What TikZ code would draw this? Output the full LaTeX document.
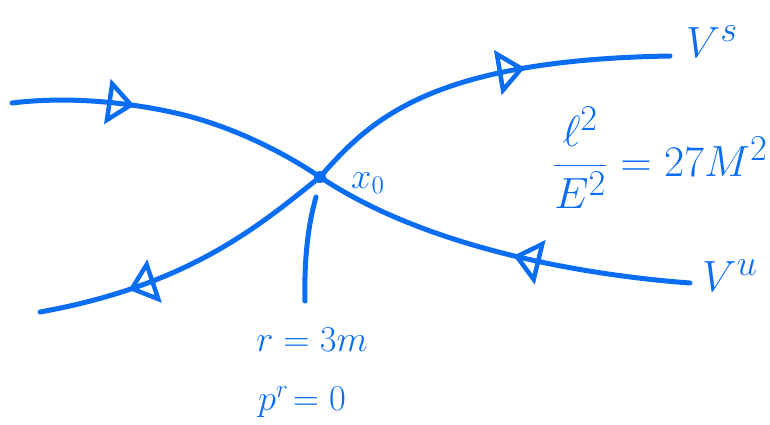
\documentclass[tikz,border=0pt]{standalone}
\usepackage{amsmath, amssymb}
\usepackage{xcolor}
\usepackage{tikz}
\usetikzlibrary{arrows.meta, decorations.markings}

\definecolor{inkblue}{RGB}{10,110,245}

\begin{document}
\begin{tikzpicture}[
    x=0.02cm, y=-0.02cm,
    ink/.style={draw, color=inkblue, line width=0.1cm, line cap=round, line join=round},
    flow/.style={postaction={decorate, decoration={markings,
        mark=at position #1 with {\arrow[line width=0.09cm]{Triangle[open, length=0.55cm, width=0.9cm]}}}}},
    lbl/.style={text=inkblue, inner sep=0pt, font=\fontsize{20}{22}\selectfont},
    biglbl/.style={text=inkblue, inner sep=0pt, font=\fontsize{30}{32}\selectfont}
]
\useasboundingbox (0,0) rectangle (770,424);
% saddle point and branch ends
\coordinate (x0) at (320,177);
\coordinate (inl) at (12,103);
\coordinate (mid) at (180,114);
\coordinate (inr) at (690,283);
\coordinate (outl) at (40,312);
\coordinate (outr) at (670,56);
\coordinate (vtop) at (316,197);
\coordinate (vbot) at (305,301);
% branches
\draw[ink, flow=0.38] (inl) .. controls (60,97) and (120,100) .. (mid)
    .. controls (230,126) and (280,150) .. (x0);
\draw[ink, flow=0.46] (inr) .. controls (570,274) and (420,244) .. (x0);
\draw[ink, flow=0.71] (x0) .. controls (260,225) and (190,285) .. (outl);
\draw[ink, flow=0.62] (x0) .. controls (370,120) and (430,60) .. (outr);
\draw[ink] (vtop) .. controls (308,225) and (304,260) .. (vbot);
\fill[inkblue] (x0) circle (6);
% labels
\node[lbl] (x0lbl) at (368,183) {$x_0$};
\node[biglbl] (vs) at (712,42) {$V^s$};
\node[biglbl] (vu) at (730,276) {$V^u$};
\node[biglbl, font=\fontsize{28}{30}\selectfont] (cond) at (660,158) {$\dfrac{\ell^2}{E^2} = 27M^2$};
\node[lbl] (rval) at (312,340) {$r=3m$};
\node[lbl] (prval) at (302,402) {$p^r\!=0$};
\end{tikzpicture}
\end{document}
